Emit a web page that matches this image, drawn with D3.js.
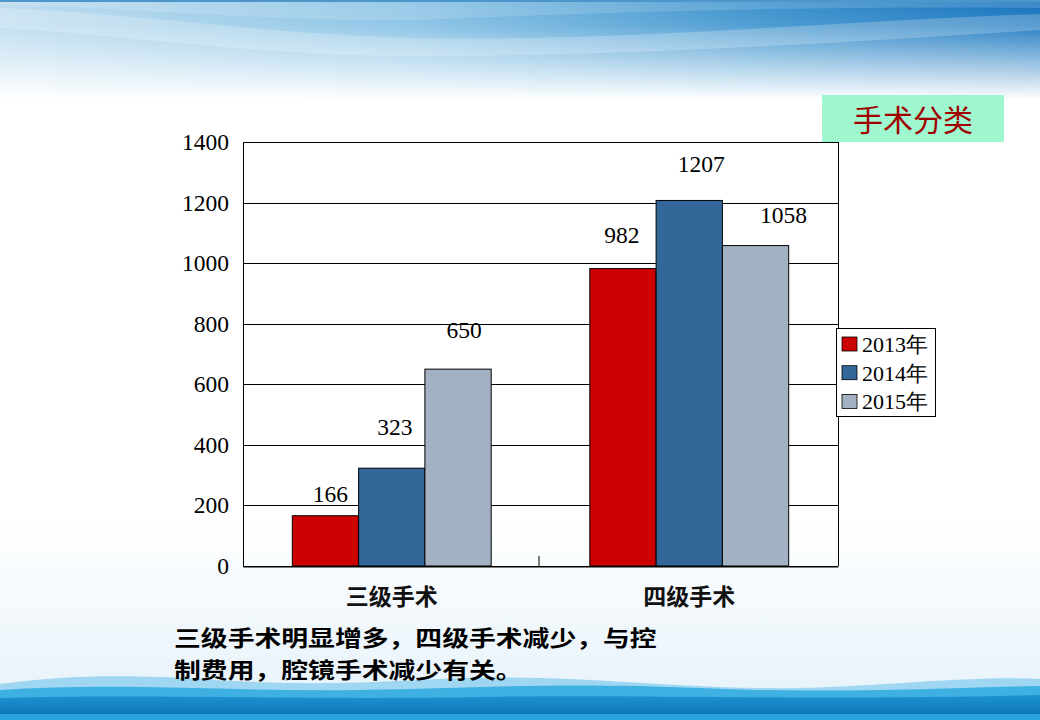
<!DOCTYPE html>
<html>
<head>
<meta charset="utf-8">
<script src="https://cdn.jsdelivr.net/npm/d3@7/dist/d3.min.js"></script>
<style>
  body { margin: 0; background: #fff; }
  svg { display: block; }
</style>
</head>
<body>
<div id="chart"></div>
<script>
// data
var categories = ["三级手术", "四级手术"];
var years = ["2013年", "2014年", "2015年"];
var values2013 = [166, 982];
var values2014 = [323, 1207];
var values2015 = [650, 1058];
var yTicks = [0, 200, 400, 600, 800, 1000, 1200, 1400];
var title = "手术分类";
var captionLines = ["三级手术明显增多，四级手术减少，与控", "制费用，腔镜手术减少有关。"];

var series = [values2013, values2014, values2015];
var colors = ["#CC0000", "#336699", "#A3B2C2"];

var svgWidth = 1040;
var svgHeight = 720;

var plot = { left: 243, top: 142, right: 838, bottom: 566 };

var svg = d3.select("#chart")
  .append("svg")
  .attr("width", svgWidth)
  .attr("height", svgHeight);

// ---- slide background ----
var defs = svg.append("defs");

var topGrad = defs.append("linearGradient").attr("id", "topGrad")
  .attr("x1", 0).attr("y1", 0).attr("x2", 1).attr("y2", 0);
topGrad.append("stop").attr("offset", "0%").attr("stop-color", "#bddcef");
topGrad.append("stop").attr("offset", "40%").attr("stop-color", "#84c0e4");
topGrad.append("stop").attr("offset", "75%").attr("stop-color", "#3890cc");
topGrad.append("stop").attr("offset", "100%").attr("stop-color", "#1673bd");

var fadeGrad = defs.append("linearGradient").attr("id", "fadeGrad")
  .attr("x1", 0).attr("y1", 0).attr("x2", 0).attr("y2", 1);
fadeGrad.append("stop").attr("offset", "0%").attr("stop-color", "#ffffff").attr("stop-opacity", 0);
fadeGrad.append("stop").attr("offset", "25%").attr("stop-color", "#ffffff").attr("stop-opacity", 0.1);
fadeGrad.append("stop").attr("offset", "100%").attr("stop-color", "#ffffff").attr("stop-opacity", 1);

var lowGrad = defs.append("linearGradient").attr("id", "lowGrad")
  .attr("x1", 0).attr("y1", 0).attr("x2", 0).attr("y2", 1);
lowGrad.append("stop").attr("offset", "0%").attr("stop-color", "#ffffff");
lowGrad.append("stop").attr("offset", "100%").attr("stop-color", "#e4f1f9");

var darkGrad = defs.append("linearGradient").attr("id", "darkGrad")
  .attr("x1", 0).attr("y1", 0).attr("x2", 0).attr("y2", 1);
darkGrad.append("stop").attr("offset", "0%").attr("stop-color", "#1d94d2");
darkGrad.append("stop").attr("offset", "100%").attr("stop-color", "#0a6fb0");

svg.append("rect").attr("width", svgWidth).attr("height", svgHeight).attr("fill", "#ffffff");

// top waves
svg.append("rect")
  .attr("x", 0).attr("y", 0).attr("width", svgWidth).attr("height", 100)
  .attr("fill", "url(#topGrad)");
svg.append("path")
  .attr("d", "M0,8 C150,14 260,34 420,38 C620,42 820,22 1040,14 V30 C820,44 620,56 420,56 C250,56 120,34 0,28 Z")
  .attr("fill", "#ffffff").attr("opacity", 0.22);
svg.append("path")
  .attr("d", "M0,0 H1040 V8 C820,6 600,12 420,20 C300,22 150,10 0,4 Z")
  .attr("fill", "#ffffff").attr("opacity", 0.15);
svg.append("rect").attr("x", 0).attr("y", 0).attr("width", svgWidth).attr("height", 100)
  .attr("fill", "url(#fadeGrad)");
svg.append("rect").attr("x", 0).attr("y", 0).attr("width", svgWidth).attr("height", 2)
  .attr("fill", "#4d96cc");

// bottom waves
svg.append("rect").attr("x", 0).attr("y", 520).attr("width", svgWidth).attr("height", 200)
  .attr("fill", "url(#lowGrad)");
svg.append("path")
  .attr("d", "M0,684 C60,676 120,674 200,679 C300,686 360,683 440,679 C560,673 640,686 760,688 C860,690 960,675 1040,679 V720 H0 Z")
  .attr("fill", "#9fd6f1");
svg.append("path")
  .attr("d", "M0,690 C120,682 240,692 360,690 C480,688 560,682 700,688 C820,694 940,688 1040,686 V720 H0 Z")
  .attr("fill", "#3fb0e2");
svg.append("path")
  .attr("d", "M0,698 C150,694 300,700 480,697 C650,694 820,701 1040,695 V720 H0 Z")
  .attr("fill", "url(#darkGrad)");
svg.append("rect").attr("x", 0).attr("y", 714).attr("width", svgWidth).attr("height", 6)
  .attr("fill", "#2aa3dc");

// ---- chart ----
var xScale = d3.scaleBand()
  .domain(categories)
  .range([plot.left, plot.right])
  .paddingInner(0)
  .paddingOuter(0);

var xInner = d3.scaleBand()
  .domain(years)
  .range([0, xScale.bandwidth()])
  .paddingInner(0)
  .paddingOuter(0.744);

var yScale = d3.scaleLinear()
  .domain([0, 1400])
  .range([plot.bottom, plot.top]);

var chartGroup = svg.append("g");

// gridlines
chartGroup.append("g")
  .selectAll("line")
  .data(yTicks)
  .enter()
  .append("line")
  .attr("x1", plot.left)
  .attr("x2", plot.right)
  .attr("y1", d => Math.round(yScale(d)) + 0.5)
  .attr("y2", d => Math.round(yScale(d)) + 0.5)
  .attr("stroke", "#000")
  .attr("stroke-width", 1);

// y axis labels
var leftAxis = d3.axisLeft(yScale).tickValues(yTicks).tickFormat(d3.format("d")).tickSize(0).tickPadding(14);
var yAxisG = chartGroup.append("g")
  .attr("transform", `translate(${plot.left}, 0)`)
  .call(leftAxis);
yAxisG.select(".domain").remove();
yAxisG.selectAll("text")
  .attr("font-family", "'Liberation Serif', 'Times New Roman', serif")
  .attr("font-size", 23.5)
  .attr("fill", "#000");

// bars
var barData = [];
categories.forEach(function(cat, i) {
  years.forEach(function(yr, j) {
    barData.push({ cat: cat, year: yr, value: series[j][i], idx: j, pos: i * 3 + j });
  });
});

chartGroup.append("g")
  .selectAll("rect")
  .data(barData)
  .enter()
  .append("rect")
  .attr("x", d => xScale(d.cat) + xInner(d.year))
  .attr("y", d => yScale(d.value))
  .attr("width", xInner.bandwidth())
  .attr("height", d => plot.bottom - yScale(d.value))
  .attr("fill", d => colors[d.idx])
  .attr("stroke", "#000")
  .attr("stroke-width", 1);

// plot border
chartGroup.append("line")
  .attr("x1", plot.left + 0.5).attr("x2", plot.left + 0.5)
  .attr("y1", plot.top).attr("y2", plot.bottom)
  .attr("stroke", "#000");
chartGroup.append("line")
  .attr("x1", plot.right + 0.5).attr("x2", plot.right + 0.5)
  .attr("y1", plot.top).attr("y2", plot.bottom)
  .attr("stroke", "#000");

// x axis with inward tick between categories
var bottomAxis = d3.axisBottom(xScale).tickSize(0).tickPadding(22);
var xAxisG = chartGroup.append("g")
  .attr("transform", `translate(0, ${plot.bottom + 0.5})`)
  .call(bottomAxis);
xAxisG.select(".domain").attr("stroke", "#000");
xAxisG.selectAll("text")
  .attr("font-family", "'Noto Sans CJK SC', sans-serif")
  .attr("font-weight", "bold")
  .attr("font-size", 23)
  .attr("fill", "#111");

chartGroup.append("line")
  .attr("x1", xScale(categories[1]) - 1.5).attr("x2", xScale(categories[1]) - 1.5)
  .attr("y1", plot.bottom - 10).attr("y2", plot.bottom)
  .attr("stroke", "#000");

// value labels (hand placed in the original, small nudges)
var labelNudge = [[5, -14], [3, -33], [6, -31], [-1, -26], [12, -28], [28, -23]];

chartGroup.append("g")
  .selectAll("text")
  .data(barData)
  .enter()
  .append("text")
  .attr("x", d => xScale(d.cat) + xInner(d.year) + xInner.bandwidth() / 2 + labelNudge[d.pos][0])
  .attr("y", d => yScale(d.value) + labelNudge[d.pos][1])
  .attr("text-anchor", "middle")
  .attr("font-family", "'Liberation Serif', 'Times New Roman', serif")
  .attr("font-size", 23.5)
  .attr("fill", "#000")
  .text(d => d.value);

// legend
var legend = svg.append("g");
legend.append("rect")
  .attr("x", 836.5).attr("y", 328.5)
  .attr("width", 99).attr("height", 88)
  .attr("fill", "#ffffff")
  .attr("stroke", "#000");

var legendItems = legend.selectAll("g.item")
  .data(years)
  .enter()
  .append("g")
  .attr("class", "item")
  .attr("transform", (d, i) => `translate(842, ${337 + i * 28.7})`);

legendItems.append("rect")
  .attr("width", 15).attr("height", 14)
  .attr("fill", (d, i) => colors[i])
  .attr("stroke", "#000")
  .attr("stroke-width", 0.8);

legendItems.append("text")
  .attr("x", 20)
  .attr("y", 15)
  .attr("font-family", "'Liberation Serif', 'Times New Roman', serif")
  .attr("font-size", 22)
  .attr("fill", "#000")
  .text(d => d);

// title box
svg.append("rect")
  .attr("x", 822).attr("y", 95)
  .attr("width", 182).attr("height", 47)
  .attr("fill", "#9ef7cf");
svg.append("text")
  .attr("x", 913).attr("y", 131)
  .attr("text-anchor", "middle")
  .attr("font-family", "'Noto Sans CJK SC', sans-serif")
  .attr("font-size", 30)
  .attr("fill", "#a00000")
  .text(title);

// caption: one wrapped paragraph (glyphs a little wider than tall in the original)
var caption = svg.append("text")
  .attr("transform", "translate(174, 646) scale(1.22, 1)")
  .attr("font-family", "'Noto Sans CJK SC', sans-serif")
  .attr("font-weight", "bold")
  .attr("font-size", 22)
  .attr("fill", "#000");

caption.selectAll("tspan")
  .data(captionLines)
  .enter()
  .append("tspan")
  .attr("x", 0)
  .attr("y", (d, i) => i * 32)
  .text(d => d);
</script>
</body>
</html>
